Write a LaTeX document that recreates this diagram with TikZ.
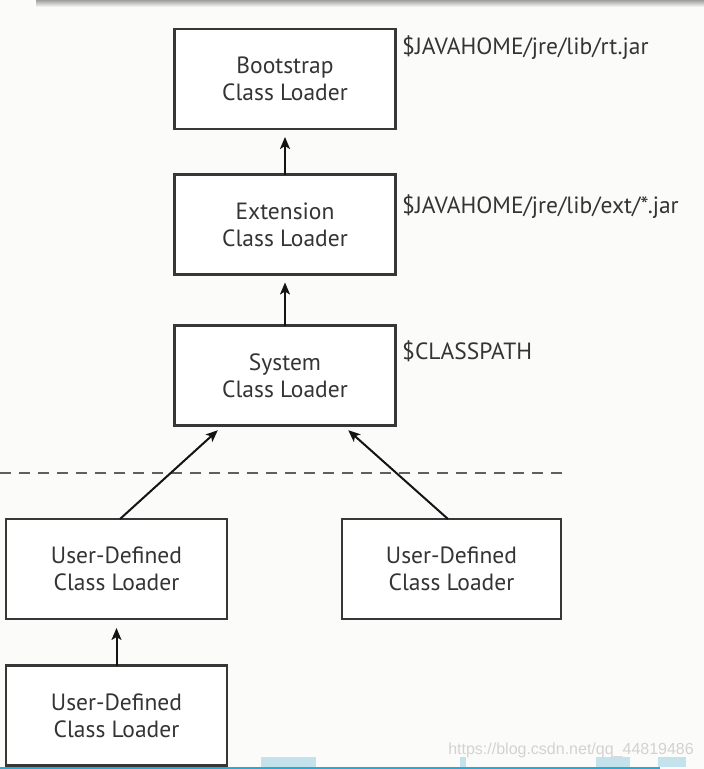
\documentclass[tikz,border=0pt]{standalone}
\usepackage{fontspec}
\setmainfont{PT Sans}
\newfontfamily\wmfont{Liberation Sans}
\usetikzlibrary{arrows.meta,calc}
\definecolor{bgc}{RGB}{251,252,250}
\definecolor{boxline}{RGB}{55,55,55}
\definecolor{txt}{RGB}{52,52,52}
\definecolor{arrc}{RGB}{20,20,20}
\definecolor{dashc}{RGB}{95,95,95}
\definecolor{artblue}{RGB}{196,226,236}
\definecolor{artcyan}{RGB}{40,170,215}
\tikzset{
  loaderbox/.style={draw=boxline, line width=2.2pt, fill=white, minimum width=221pt,
    minimum height=100pt, inner sep=0pt, outer sep=0pt, align=center,
    text=txt, font=\fontsize{23.5}{27}\selectfont},
  pathlabel/.style={anchor=west, inner sep=0pt, text=txt, font=\fontsize{23.5}{26}\selectfont},
  uparrow/.style={draw=arrc, line width=2pt, -{Stealth[length=12pt,width=10pt,inset=3pt]}},
  sepline/.style={draw=dashc, line width=2.6pt, dash pattern=on 11pt off 8pt},
}
\begin{document}
\begin{tikzpicture}[x=1pt,y=-1pt]
  \useasboundingbox (0,0) rectangle (704,769);
  \fill[bgc] (0,0) rectangle (704,769);
  % screenshot artefacts
  \shade[top color=gray!75, bottom color=bgc] (36,0) rectangle (704,7);
  \foreach \a/\b in {148/176, 261/316, 460/466, 596/630, 658/686}
    \fill[artblue] (\a,757) rectangle (\b,767);
  \fill[artcyan] (0,767) rectangle (660,769);

  % boxes
  \node[loaderbox] (boot) at (285,79)    {Bootstrap\\Class Loader};
  \node[loaderbox] (ext)  at (285,224.5) {Extension\\Class Loader};
  \node[loaderbox] (sys)  at (285,375.5) {System\\Class Loader};
  \node[loaderbox] (ud1)  at (116.5,569) {User-Defined\\Class Loader};
  \node[loaderbox, minimum width=219pt] (ud2) at (451.5,569) {User-Defined\\Class Loader};
  \node[loaderbox] (ud3)  at (116.5,715.5) {User-Defined\\Class Loader};

  % path labels
  \node[pathlabel] (l1) at (402,48)  {\$JAVAHOME/jre/lib/rt.jar};
  \node[pathlabel] (l2) at (402,207) {\$JAVAHOME/jre/lib/ext/*.jar};
  \node[pathlabel] (l3) at (402,351) {\$CLASSPATH};

  % separator
  \coordinate (d1) at (0,473);
  \coordinate (d2) at (568,473);
  \draw[sepline] (d1) -- (d2);

  % arrows
  \draw[uparrow, shorten >=8pt] (ext.north) -- (boot.south);
  \draw[uparrow, shorten >=8pt] (sys.north) -- (ext.south);
  \draw[uparrow, shorten >=7pt] ([xshift=3.5pt]ud1.north) -- ([xshift=-62pt]sys.south);
  \draw[uparrow, shorten >=7pt] ([xshift=-3.5pt]ud2.north) -- ([xshift=58pt]sys.south);
  \draw[uparrow, shorten >=9pt] (ud3.north) -- (ud1.south);

  % watermark
  \node[anchor=east, inner sep=0pt, text=gray!35, font=\wmfont\fontsize{16}{18}\selectfont] (wm) at (694,750) {https://blog.csdn.net/qq\_44819486};
\end{tikzpicture}
\end{document}
